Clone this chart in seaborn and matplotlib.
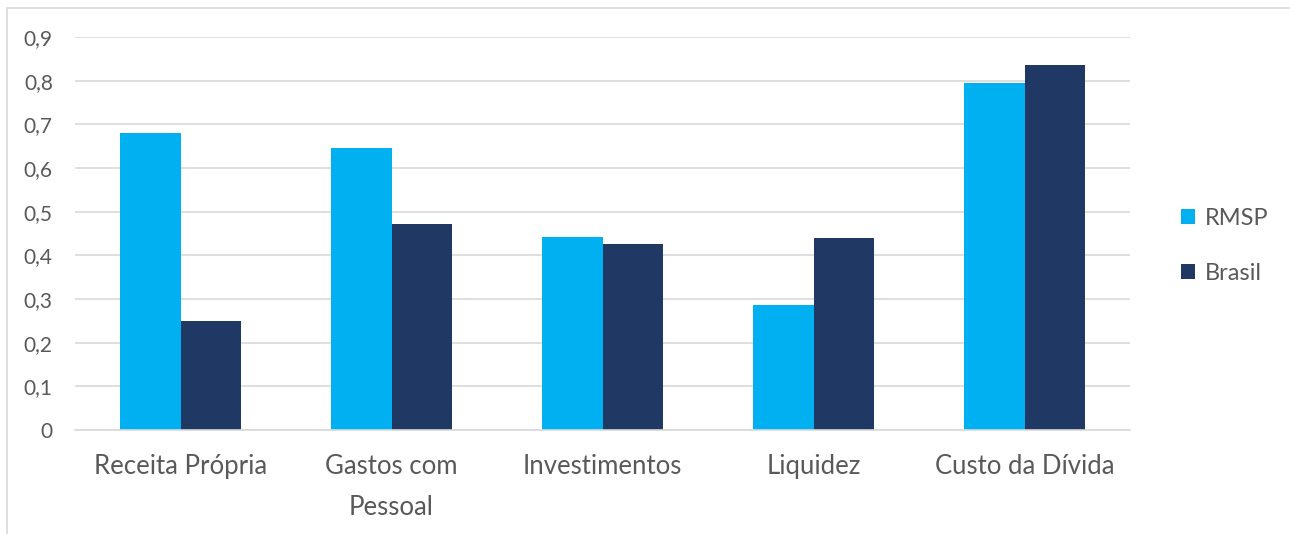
import matplotlib
matplotlib.use("Agg")
import matplotlib.pyplot as plt
from matplotlib.patches import Rectangle
import pandas as pd
import seaborn as sns

categories = ["Receita Própria", "Gastos com\nPessoal", "Investimentos", "Liquidez", "Custo da Dívida"]
rmsp = [0.680, 0.646, 0.441, 0.287, 0.794]
brasil = [0.250, 0.471, 0.427, 0.440, 0.835]
series = ["RMSP", "Brasil"]
colors = ["#00B0F0", "#1F3864"]
yticks = [0, 0.1, 0.2, 0.3, 0.4, 0.5, 0.6, 0.7, 0.8, 0.9]
ytick_labels = ["0", "0,1", "0,2", "0,3", "0,4", "0,5", "0,6", "0,7", "0,8", "0,9"]

df = pd.DataFrame({
    "categoria": categories * 2,
    "valor": rmsp + brasil,
    "serie": [series[0]] * len(categories) + [series[1]] * len(categories),
})

sns.set_theme(style="white")
plt.rcParams["font.family"] = ["Lato", "DejaVu Sans"]
text_color = "#595959"

W, H = 1290, 534
fig = plt.figure(figsize=(W / 100, H / 100), dpi=100)
ax = fig.add_axes([75 / W, (H - 430) / H, (1130 - 75) / W, (430 - 37) / H])

sns.barplot(data=df, x="categoria", y="valor", hue="serie", order=categories,
            hue_order=series, palette=colors, width=0.57, gap=0,
            saturation=1, linewidth=0, ax=ax, legend=True)

ax.set_ylim(0, 0.9)
ax.set_xlim(-0.5, len(categories) - 0.5)
ax.set_yticks(yticks)
ax.set_yticklabels(ytick_labels)
ax.yaxis.grid(True, color="#D9D9D9", linewidth=1.2)
ax.set_axisbelow(True)
for s in ["top", "right", "left"]:
    ax.spines[s].set_visible(False)
ax.spines["bottom"].set_color("#D9D9D9")
ax.spines["bottom"].set_linewidth(1.2)
ax.set_xlabel("")
ax.set_ylabel("")
ax.tick_params(axis="y", length=0, pad=16, labelsize=15, labelcolor=text_color)
ax.tick_params(axis="x", length=0, pad=17, labelsize=18.5, labelcolor=text_color)
for lbl in ax.get_xticklabels():
    lbl.set_linespacing(1.8)
    lbl.set_verticalalignment("top")

handles, labels = ax.get_legend_handles_labels()
ax.get_legend().remove()
fig.legend(handles, labels, loc="center left", bbox_to_anchor=(1160 / W, 1 - 246 / H),
           frameon=False, fontsize=17, labelcolor=text_color,
           handlelength=0.6, handleheight=0.6, handletextpad=0.4,
           labelspacing=1.45)

# thin frame around the chart area
fig.patches.append(Rectangle((7 / W, -0.05), 1.1, 1 - 8 / H + 0.05,
                             transform=fig.transFigure, fill=False,
                             edgecolor="#D9D9D9", linewidth=1.2))

fig.savefig("out.png", dpi=100, facecolor="white")
